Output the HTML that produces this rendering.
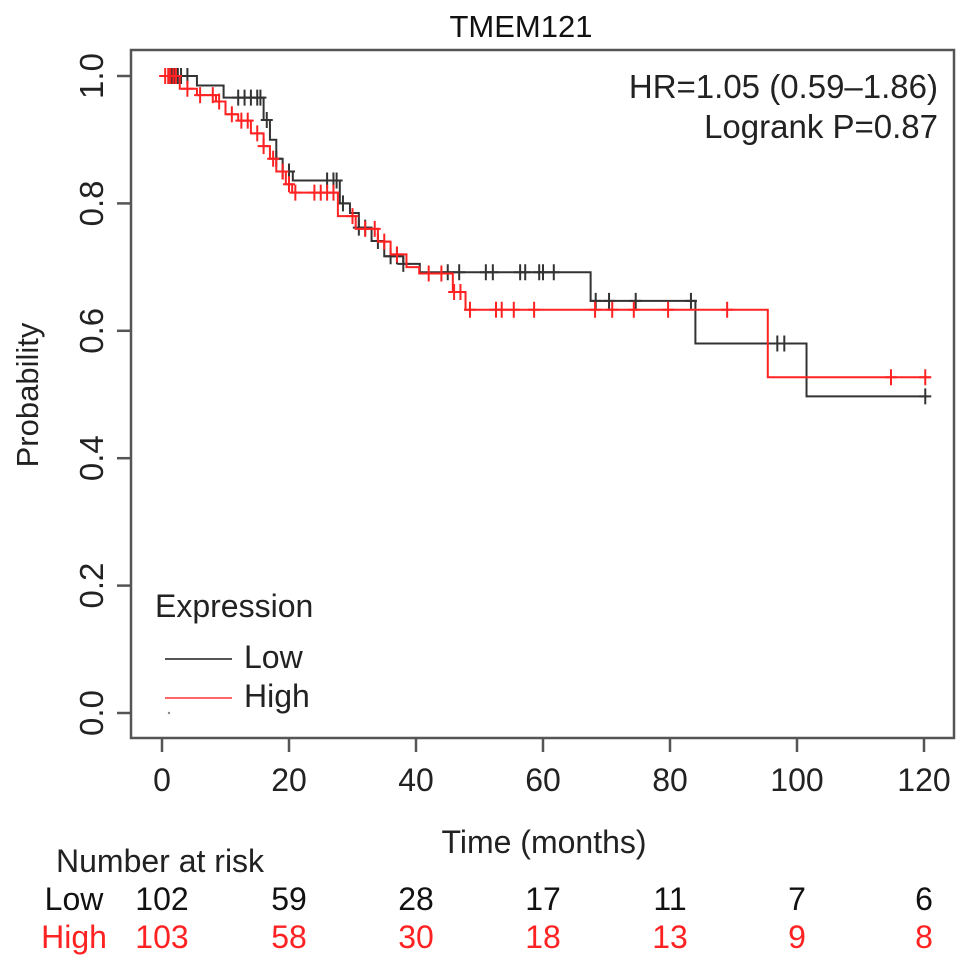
<!DOCTYPE html>
<html><head><meta charset="utf-8"><style>
body{margin:0;background:#fff}
svg{display:block;font-family:"Liberation Sans",Arial,sans-serif}
</style></head><body>
<svg id="c" width="969" height="969" viewBox="0 0 969 969"></svg>
<script>
const xTicks=[0,20,40,60,80,100,120];
const yTicks=[0.0,0.2,0.4,0.6,0.8,1.0];
const lowTimes=[0,5.5,9.7,16,17,18,19,20.6,28,29.6,31,33,35,38,40.6,67.5,84,101.5,120.5];
const lowSurv=[1.0,0.985,0.966,0.931,0.9,0.87,0.85,0.836,0.8,0.785,0.762,0.741,0.717,0.705,0.692,0.647,0.58,0.497,0.497];
const highTimes=[0,2.8,5.5,8.5,10,12,14,16,17,18,19.5,20.5,27.7,30.5,34,36,38.5,40.5,45.8,47.8,95.4,121];
const highSurv=[1.0,0.98,0.97,0.96,0.94,0.93,0.91,0.89,0.87,0.85,0.83,0.817,0.78,0.76,0.74,0.72,0.70,0.69,0.661,0.633,0.527,0.527];
const lowCensor=[1,1.5,2,2.5,3,4,12,13,14,15,15.5,16.5,18,19,20,26,27,27.5,28.5,31,32,34,36,37,38,45,46.8,51,52.1,56.4,57.2,59.4,60,61.7,68.3,70.4,74.6,83.3,96.9,98,120.2];
const highCensor=[0.5,1,1.3,1.8,2.2,4,6,8,9,11,12.5,13.5,15,16,17.5,19,20,21,24,25,26,27,30,32,33.5,35,37,42,44,46,47,48.5,52.6,53.5,55.4,58.6,68.2,70.9,74.3,79.7,89,114.8,120.2];
const riskLow=[102,59,28,17,11,7,6];
const riskHigh=[103,58,30,18,13,9,8];
const X=m=>162+m*6.35, Y=p=>713-p*637;
const svg=document.getElementById('c');
const NS='http://www.w3.org/2000/svg';
function mk(t,a,txt){const e=document.createElementNS(NS,t);for(const k in a)e.setAttribute(k,a[k]);if(txt!==undefined)e.textContent=txt;svg.appendChild(e);return e;}
let e;
e=mk('rect',{x:131,y:50,width:823,height:688,fill:'none',stroke:'#555','stroke-width':2.5});

e=mk('text',{x:521,y:37,'font-size':31,'text-anchor':'middle',fill:'#111'},'TMEM121');

xTicks.forEach(v=>{
 e=mk('line',{x1:X(v),x2:X(v),y1:738,y2:752,stroke:'#555','stroke-width':2.5});
 
 e=mk('text',{x:X(v),y:791,'font-size':32,'text-anchor':'middle',fill:'#222'},String(v));
 
});
yTicks.forEach(v=>{
 e=mk('line',{x1:117,x2:131,y1:Y(v),y2:Y(v),stroke:'#555','stroke-width':2.5});
 
 e=mk('text',{x:0,y:0,'font-size':33,'text-anchor':'middle',fill:'#222',transform:`translate(103,${Y(v)}) rotate(-90)`},v.toFixed(1));
 
});
e=mk('text',{x:0,y:0,'font-size':31,'text-anchor':'middle',fill:'#222',transform:'translate(38,395) rotate(-90)'},'Probability');

e=mk('text',{x:544,y:853,'font-size':32,'text-anchor':'middle',fill:'#222'},'Time (months)');

function stepPath(t,s){let d=`M${X(t[0])},${Y(s[0])}`;for(let i=1;i<t.length;i++){d+=` H${X(t[i])} V${Y(s[i])}`;}return d;}
function survAt(t,s,m){let v=s[0];for(let i=0;i<t.length;i++){if(t[i]<=m)v=s[i];}return v;}
function draw(t,s,c,col,name){
 e=mk('path',{d:stepPath(t,s),fill:'none',stroke:col,'stroke-width':2});
 
 c.forEach(m=>{const y=Y(survAt(t,s,m)),x=X(m);
  e=mk('path',{d:`M${x-6},${y}H${x+6}M${x},${y-8}V${y+8}`,stroke:col,'stroke-width':2,fill:'none'});
  });
}
draw(lowTimes,lowSurv,lowCensor,'#333','low');
draw(highTimes,highSurv,highCensor,'#f22','high');
e=mk('text',{x:938,y:98,'font-size':33,'text-anchor':'end',fill:'#222'},'HR=1.05 (0.59\u20131.86)');

e=mk('text',{x:938,y:138,'font-size':33,'text-anchor':'end',fill:'#222'},'Logrank P=0.87');

e=mk('text',{x:155,y:617,'font-size':32,fill:'#222'},'Expression');

e=mk('line',{x1:165,x2:232,y1:659,y2:659,stroke:'#555','stroke-width':2});

e=mk('text',{x:244,y:668,'font-size':32,fill:'#222'},'Low');

e=mk('line',{x1:165,x2:232,y1:698,y2:698,stroke:'#f66','stroke-width':2});

e=mk('text',{x:244,y:707,'font-size':32,fill:'#222'},'High');

e=mk('circle',{cx:169,cy:713,r:1.2,fill:'#888'});

e=mk('text',{x:56,y:872,'font-size':32,fill:'#222'},'Number at risk');

e=mk('text',{x:74,y:910,'font-size':32,'text-anchor':'middle',fill:'#111'},'Low');

e=mk('text',{x:74,y:948,'font-size':32,'text-anchor':'middle',fill:'#f22'},'High');

xTicks.forEach((v,i)=>{
 e=mk('text',{x:X(v),y:910,'font-size':32,'text-anchor':'middle',fill:'#111'},String(riskLow[i]));
 
 e=mk('text',{x:X(v),y:948,'font-size':32,'text-anchor':'middle',fill:'#f22'},String(riskHigh[i]));
 
});
</script>
</body></html>
